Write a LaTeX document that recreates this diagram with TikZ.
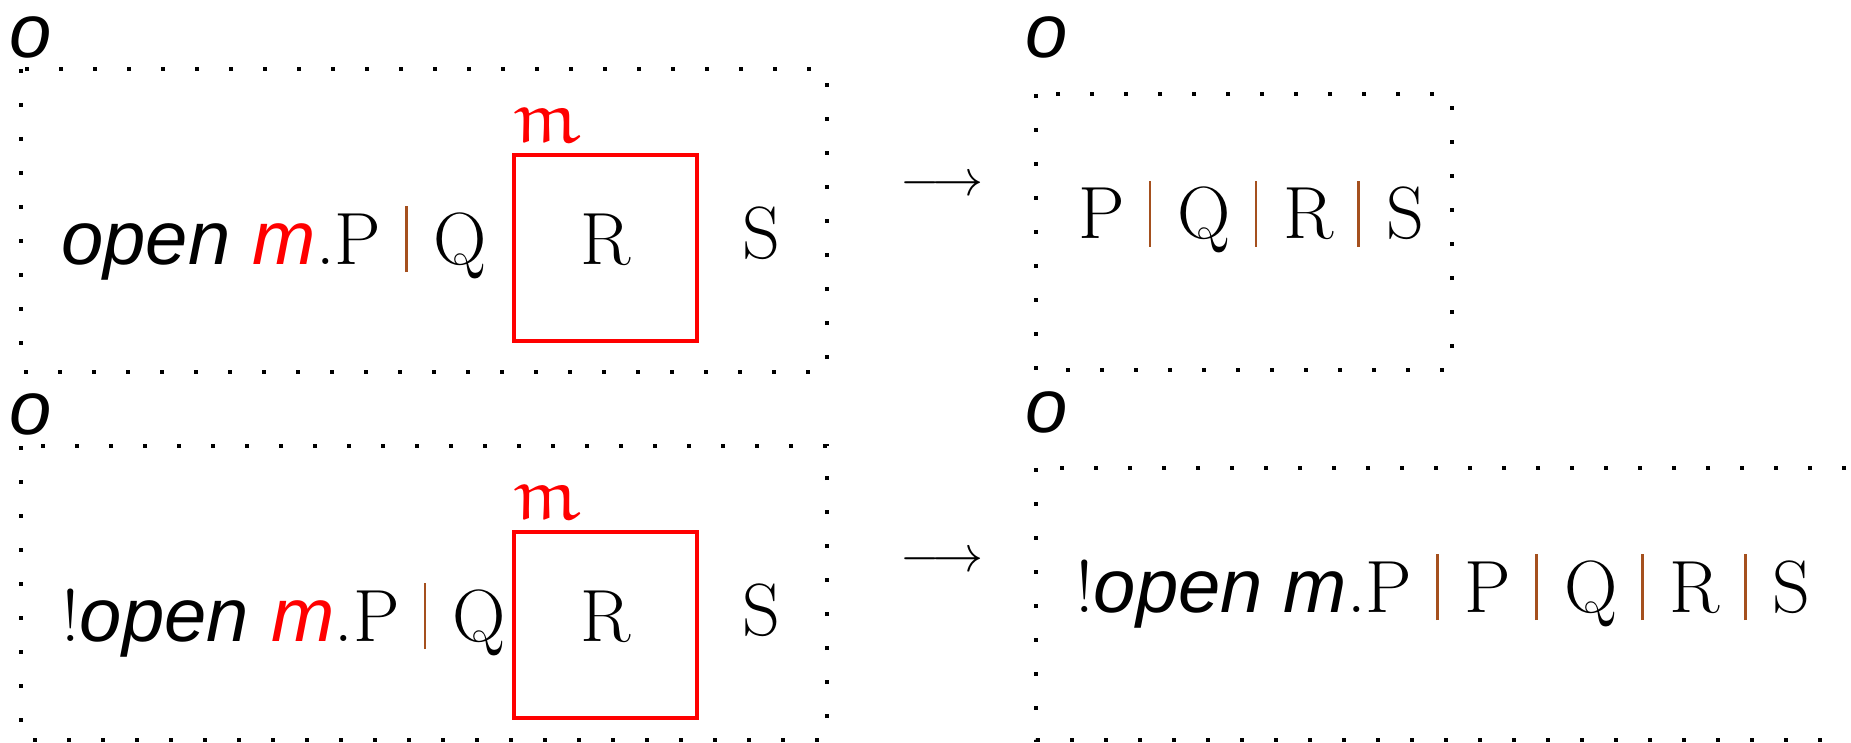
\RequirePackage{fix-cm}
\documentclass[tikz,border=0pt]{standalone}
\usepackage{amssymb}
\usepackage{fontspec}
\newfontfamily\opsans{Liberation Sans}
\DeclareFontFamily{U}{eur}{\skewchar\font'177}
\DeclareFontShape{U}{eur}{m}{n}{<-6>eurm5<6-8>eurm7<8->eurm10}{}
\DeclareMathAlphabet{\mathEu}{U}{eur}{m}{n}
\usepackage{xcolor}
\definecolor{cRed}{HTML}{FF0000}
\definecolor{cBar}{HTML}{A5501E}
\usepackage{tikz}
\usetikzlibrary{positioning}
\newcommand\opit[1]{{\opsans\itshape\fontsize{38}{40}\selectfont #1}}
\newcommand\sepbar{\hspace{12pt}\textcolor{cBar}{\rule[-4pt]{1.3pt}{33pt}}\hspace{13pt}}
\tikzset{
  zone-box/.style={draw=black,line width=1.6pt,dash pattern=on 1.8pt off 15.2pt},
  zone-label/.style={inner sep=0pt,font=\opsans\itshape\fontsize{38}{40}\selectfont},
  mem-box/.style={draw=cRed,line width=2pt,minimum width=91.5pt,minimum height=93pt,
    inner sep=0pt,text depth=9pt},
  mem-label/.style={inner sep=0pt,text=cRed,anchor=south west},
  term/.style={inner sep=0pt,anchor=base west},
  step-arrow/.style={inner sep=0pt,anchor=base,font=\fontsize{25.5}{27}\selectfont},
}

\begin{document}
\begin{tikzpicture}[x=0.5pt,y=-0.5pt,font=\fontsize{37}{40}\selectfont]
  \useasboundingbox (0,0) rectangle (1851,743);
  % left column: the term before the step
  \foreach \row/\dy/\bot/\pre in {a/0/372/{}, b/377/740/!} {
    \node[zone-label] (o-\row) at (31,37+\dy) {o};
    \draw[zone-box] (21,69+\dy) rectangle (827,\bot);
    \node[term] (lhs-\row) at (61,264+\dy) {\pre\opit{open} \textcolor{cRed}{\opit{m}}.P\sepbar Q};
    \node[mem-box] (mem-\row) at (605.5,248+\dy) {R};
    \node[mem-label] (m-\row) at ([xshift=0pt,yshift=5pt]mem-\row.north west) {$\mathEu{m}$};
    \node[term,anchor=base] (s-\row) at (761,258+\dy) {S};
  }
  % right column: after the step
  \node[step-arrow] (to-a) at (942,196) {$\longrightarrow$};
  \node[zone-label] (o-c) at (1047,37) {o};
  \draw[zone-box] (1036,94) rectangle (1452,370);
  \node[term,anchor=base] (rhs-a) at (1251,239) {P\sepbar Q\sepbar R\sepbar S};
  \node[step-arrow] (to-b) at (942,571) {$\longrightarrow$};
  \node[zone-label] (o-d) at (1047,412) {o};
  \draw[zone-box] (1036,468) rectangle (1900,740);
  \node[term] (rhs-b) at (1075,612) {!\opit{open m}.P\sepbar P\sepbar Q\sepbar R\sepbar S};
\end{tikzpicture}
\end{document}
